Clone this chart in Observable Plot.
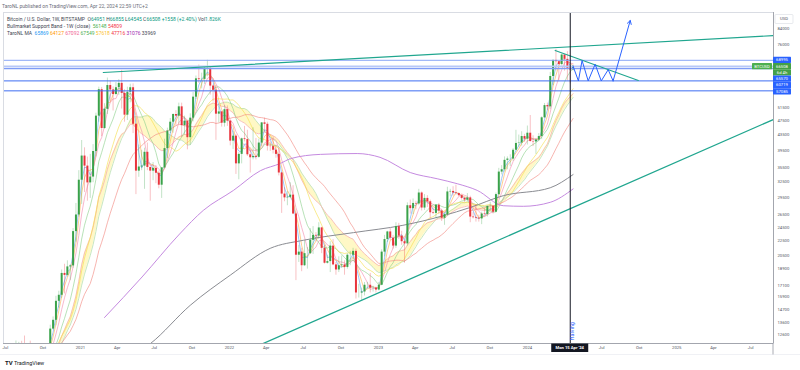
<!DOCTYPE html>
<html><head><meta charset="utf-8">
<script src="https://cdn.jsdelivr.net/npm/d3@7"></script>
<script src="https://cdn.jsdelivr.net/npm/@observablehq/plot@0.6"></script>
<style>
html,body{margin:0;padding:0;background:#fff;}
#wrap{position:relative;width:800px;height:370px;overflow:hidden;font-family:Roboto,"Liberation Sans",sans-serif;}
#chart{position:absolute;left:0;top:0;}
.hl{position:absolute;white-space:nowrap;font-size:5px;line-height:6px;color:#434651;}
</style></head><body>
<div id="wrap"><div id="chart"></div><div id="hdr"></div><div id="logo"></div></div>
<script>
// ---------- data ----------
const weekStart = "2020-07-06";
const firstOpen = 9080;
const closes = [
9240,9160,9930,11050,11900,11770,11660,11700,10250,10330,
10930,10780,10670,11380,11500,13030,13760,15480,16070,18400,
18180,19160,19280,23850,26440,32800,38100,35800,32260,33450,
39200,48800,57500,45200,50900,59000,57400,55800,58200,59800,
56200,49100,56600,58200,46400,34700,35600,35800,39000,35500,
34700,35300,34250,31800,35400,39900,44500,47000,49300,48800,
51700,46000,47300,42700,48200,54900,61500,61200,61300,65500,
65500,58800,57300,49400,50100,46700,50800,47300,41800,43100,
36300,38500,42400,42200,38400,37700,38000,37800,41300,46800,
46400,40500,40400,39500,38500,34300,30100,29400,29500,29900,
26600,20600,21000,19300,20800,20800,22600,23300,23200,24400,
21500,19600,19800,21800,19400,18800,19300,19400,19100,20600,
20600,21100,16300,16300,16400,17100,17100,16800,16800,16600,
17100,21000,22700,23800,22900,21800,24600,23200,22400,22100,
28000,27500,28400,28300,30300,27600,29300,28700,26800,26700,
28100,27100,25900,26500,30500,30600,30300,30200,29800,29300,
29000,29400,26100,26000,25900,25800,26600,26500,27900,27900,
26900,30000,34500,35000,37100,37400,37400,39500,41200,41300,
43000,42300,43900,41700,41600,42100,43000,48300,52100,51700,
62400,68950,68400,67200,71300,69400,65700,64951,66508];
const highs = [
9470,9290,10000,12100,12000,12080,12480,11800,12090,10600,
11180,10980,10950,11490,11720,13350,14050,15970,16480,18800,
19480,19900,19420,24300,28400,34800,41950,40100,37850,38500,
40900,49700,58400,58300,52700,61800,60600,58500,60100,61200,
64800,57500,58400,59500,59600,46600,40800,39500,40000,41300,
35600,36600,35900,34700,35500,42300,45300,48100,49500,50500,
52900,52900,48800,47400,49500,56500,62600,67000,63700,66400,
69000,66400,59200,59000,51900,50300,52100,52000,47500,44400,
43500,38900,42600,45800,44700,39800,45400,42500,42300,46900,
48200,47000,41600,42900,40800,39900,34400,31300,30600,32300,
31700,26900,21900,21500,22500,21600,24300,24600,23700,25200,
24500,21900,20600,22400,22700,19700,20400,20500,19900,20800,
21100,21500,21400,17200,16800,17400,17400,18400,17000,16900,
17400,21300,23300,23900,24300,23300,25200,25100,23900,22600,
28500,29000,29200,28800,31000,30500,30000,29800,29000,27600,
28200,28400,27400,26800,31400,31000,31500,31800,30300,29900,
29500,30200,29700,26800,28200,26400,26900,27500,27900,28600,
27900,30300,35300,35900,37900,37900,38400,39900,44700,43400,
44300,43600,45900,49000,43200,42300,43800,48600,52800,52900,
64000,69200,73800,68400,71700,71300,72800,66900,66855];
const lows = [
9000,9000,9150,9900,10950,11100,11380,11150,9870,9880,
10200,10150,10400,10530,11200,11400,12950,13300,14850,15780,
16200,18000,17600,19000,22350,26100,28200,30400,28800,29300,
32300,37900,47000,43000,45000,49300,53300,50400,55400,55500,
51000,47000,47500,53000,43800,30000,33400,34800,31000,34800,
28800,32700,32100,31100,29300,35200,37500,43800,43900,45900,
46500,42800,43400,39600,40700,47100,54100,59800,57800,59400,
62300,55600,53300,42000,46800,45600,45600,45800,40600,39700,
34000,32900,36300,41600,38000,34300,37200,37200,37600,40500,
44200,39300,39200,38600,37600,33700,26700,28700,28000,29300,
26500,17600,19700,18600,19200,18900,20700,20700,22400,22700,
20800,19500,19500,18500,19300,18200,18500,19000,18200,18900,
19300,20000,15700,15800,15500,16000,16700,16300,16400,16300,
16500,17100,20400,22300,22600,21400,21500,22700,21900,19600,
21800,26600,26500,27300,28000,27100,27200,27700,25800,26500,
25900,26500,25400,24800,26200,29600,29700,29900,29600,29000,
28600,28700,25200,25800,25300,25300,24900,26400,26100,27200,
26600,26800,29900,33900,34500,35000,35700,36900,39300,40300,
40500,41500,40800,41500,40400,38500,41800,42200,48100,50600,
50900,59000,64600,60800,66600,64500,60700,59600,64545];

// long moving averages (100W purple, 200W gray)
const ma100Dates = ["2021-03-01","2021-06-01","2021-09-01","2021-10-29","2022-01-11","2022-03-18","2022-05-06","2022-05-31","2022-08-12","2022-11-10","2023-01-05","2023-03-20","2023-05-25","2023-07-13","2023-08-31","2023-11-03","2023-12-22","2024-02-26","2024-04-22"];
const ma100Values = [14000,18000,23500,27200,30800,34800,36400,37500,38500,38700,37800,34400,33100,32100,30800,28000,27900,28600,31076];
const ma200Dates = ["2021-03-01","2021-06-21","2021-09-27","2022-01-03","2022-04-11","2022-07-01","2022-11-01","2023-03-02","2023-06-08","2023-08-14","2023-11-03","2024-02-26","2024-04-22"];
const ma200Values = [10200,11900,15100,18200,21500,22600,23700,24800,26300,27700,29800,31300,33969];
const maWindows = [3,4,6,10,16,30];

// horizontal levels
const levelValues = [68995,65570,60719,57085];
const priceValue = 66508;

// trend lines (author drawings)
const upperTrendDates = ["2021-02-26","2025-08-26"];
const upperTrendValues = [63960,80400];
const lowerTrendDates = ["2022-01-28","2025-08-26"];
const lowerTrendValues = [11200,47800];
const wedgeDates = ["2024-03-09","2024-09-29"];
const wedgeValues = [73300,60900];
// projection path
const projDates = ["2024-04-22","2024-05-05","2024-05-14","2024-05-29","2024-06-15","2024-06-30","2024-07-17","2024-07-29","2024-09-09"];
const projValues = [66508,60719,68900,60719,67300,60719,65100,60719,88300];
const halvingWeek = "2024-04-15";

// axis ticks
const xTickDates = ["2020-07-01","2020-10-01","2021-01-01","2021-04-01","2021-07-01","2021-10-01","2022-01-01","2022-04-01","2022-07-01","2022-10-01","2023-01-01","2023-04-01","2023-07-01","2023-10-01","2024-01-01","2024-07-01","2024-10-01","2025-01-01","2025-04-01","2025-07-01"];
const xTickLabels = ["Jul","Oct","2021","Apr","Jul","Oct","2022","Apr","Jul","Oct","2023","Apr","Jul","Oct","2024","Jul","Oct","2025","Apr","Jul"];
const yTicks = [84000,76000,51500,47500,43500,39500,35500,32500,29500,26500,24500,22500,20500,18900,17100,15900,14700,13600,12600];

// header texts
const ohlc = ["O","64951","H","66855","L","64545","C","66508","+1558 (+2.40%)"];
const volume = "1.826K";
const bandValues = [56148,54809];
const maLegendValues = [65869,64127,67092,67549,57618,47716,31076,33969];

// ---------- styles ----------
const maColors = ["#64a8f5","#ffb454","#f48fb1","#8fd18f","#f5e050","#f28b82","#c58ae0","#8a8c92"];
const legendColors = ["#2196f3","#ff9800","#f06292","#4caf50","#fbc02d","#f23645","#9c27b0","#434651"];
const upColor = "#3aa24a", downColor = "#e8343c";
const teal = "#20a68f", blue = "#2962ff";

// ---------- build rows ----------
const t0 = new Date(weekStart + "T00:00:00Z").getTime();
const rows = closes.map((c, i) => ({
  date: new Date(t0 + i * 7 * 864e5),
  open: i ? closes[i - 1] : firstOpen,
  high: highs[i], low: lows[i], close: c
}));
let ema;
rows.forEach((r, i) => {
  r.up = r.close >= r.open;
  r.sma20 = d3.mean(closes.slice(Math.max(0, i - 19), i + 1));
  ema = i ? (2 / 22) * r.close + (1 - 2 / 22) * ema : r.close;
  r.ema21 = ema;
});
const D = s => new Date(s + "T00:00:00Z");
const seg = (ds, vs) => ds.map((d, i) => ({date: D(d), value: vs[i]}));
const ma100 = seg(ma100Dates, ma100Values);
const ma200 = seg(ma200Dates, ma200Values);
const upper = seg(upperTrendDates, upperTrendValues);
const lower = seg(lowerTrendDates, lowerTrendValues);
const wedge = seg(wedgeDates, wedgeValues);
const proj = seg(projDates, projValues);
const projLine = proj.slice(0, -1);
const arrowSeg = [{x1: proj[proj.length - 2].date, y1: proj[proj.length - 2].value, x2: proj[proj.length - 1].date, y2: proj[proj.length - 1].value}];
const tickLabelMap = new Map(xTickDates.map((d, i) => [+D(d), xTickLabels[i]]));

const maMarks = maWindows.map((k, j) =>
  Plot.lineY(rows, Plot.windowY({k, anchor: "end", reduce: "mean"},
    {x: "date", y: "close", stroke: maColors[j], strokeWidth: 0.8, strokeOpacity: 0.8, clip: true})));

const chart = Plot.plot({
  width: 800, height: 357,
  marginLeft: 3, marginRight: 27, marginTop: 12, marginBottom: 14,
  style: {fontFamily: "Roboto, 'Liberation Sans', sans-serif", fontSize: "4px", background: "transparent", overflow: "visible"},
  x: {type: "utc", domain: [new Date("2020-06-26T12:00:00Z"), D("2025-08-26")]},
  y: {type: "log", domain: [11916, 92800]},
  color: {type: "identity"},
  marks: [
    Plot.areaY(rows, {x: "date", y1: "sma20", y2: "ema21", fill: "#fff3a0", fillOpacity: 0.6, clip: true}),
    Plot.lineY(rows, {x: "date", y: "sma20", stroke: "#b9e0b0", strokeWidth: 0.8, clip: true}),
    Plot.lineY(rows, {x: "date", y: "ema21", stroke: "#f6b2ae", strokeWidth: 0.8, clip: true}),
    ...maMarks,
    Plot.line(ma100, {x: "date", y: "value", stroke: maColors[6], strokeWidth: 1, curve: "monotone-x", clip: true}),
    Plot.line(ma200, {x: "date", y: "value", stroke: maColors[7], strokeWidth: 1, curve: "monotone-x", clip: true}),
    Plot.ruleX(rows, {x: "date", y1: "low", y2: "high", stroke: d => d.up ? upColor : downColor, strokeOpacity: 0.35, strokeWidth: 0.9, clip: true}),
    Plot.ruleX(rows, {x: "date", y1: "open", y2: "close", stroke: d => d.up ? upColor : downColor, strokeWidth: 2, clip: true}),
    Plot.ruleY([priceValue], {stroke: "#b7c8f7", strokeWidth: 1.6}),
    Plot.ruleY(levelValues, {stroke: (d, i) => i === 0 ? "#8aa7f7" : (i === 1 ? "#7f9cf5" : "#3d6df2"), strokeWidth: (d, i) => i === 1 ? 1.4 : 1}),
    Plot.line(upper, {x: "date", y: "value", stroke: teal, strokeWidth: 1.2, clip: true}),
    Plot.line(lower, {x: "date", y: "value", stroke: teal, strokeWidth: 1.3, clip: true}),
    Plot.line(wedge, {x: "date", y: "value", stroke: teal, strokeWidth: 1.1, clip: true}),
    Plot.line(projLine, {x: "date", y: "value", stroke: blue, strokeWidth: 1, clip: true}),
    Plot.arrow(arrowSeg, {x1: "x1", y1: "y1", x2: "x2", y2: "y2", stroke: blue, strokeWidth: 1, headLength: 6}),
    Plot.ruleX([D(halvingWeek)], {stroke: "#131722", strokeWidth: 1}),
    Plot.text(["Halving"], {x: () => D(halvingWeek), frameAnchor: "bottom", dy: -3, dx: 4, rotate: -90, textAnchor: "start", fill: blue, fontSize: 5.5}),
    Plot.frame({stroke: "#d9dce3"}),
    Plot.ruleX([D("2025-08-26")], {stroke: "#9598a1", strokeWidth: 0.8}),
    Plot.ruleY([11916], {stroke: "#9598a1", strokeWidth: 0.8}),
    Plot.axisX({ticks: xTickDates.map(D), tickFormat: d => tickLabelMap.get(+d), tickSize: 0, tickPadding: 3, fontSize: 4.2, fill: "#50535e"}),
    Plot.axisY({anchor: "right", ticks: yTicks, tickFormat: d => String(d), tickSize: 0, tickPadding: 4, fontSize: 4.2, fill: "#50535e"})
  ]
});
document.getElementById("chart").appendChild(chart);

// ---------- price-axis labels (stacked like TradingView) ----------
const sx = chart.scale("x"), sy = chart.scale("y");
const svg = d3.select(chart);
const g = svg.append("g").attr("font-family", "Roboto, 'Liberation Sans', sans-serif");
const axisX0 = sx.apply(D("2025-08-26"));
const axisY0 = sy.apply(11916);
// extended separators of the axis panes
g.append("line").attr("x1", axisX0).attr("x2", axisX0).attr("y1", axisY0).attr("y2", axisY0 + 12).attr("stroke", "#9598a1").attr("stroke-width", 0.8);
g.append("line").attr("x1", 0).attr("x2", 800).attr("y1", axisY0 + 11.5).attr("y2", axisY0 + 11.5).attr("stroke", "#e6e8ee").attr("stroke-width", 0.6);
const boxH = 6.3;
const labels = [
  {v: levelValues[0], fill: blue, text: String(levelValues[0])},
  {v: priceValue, fill: "#43a047", text: String(priceValue), price: true},
  {v: levelValues[1], fill: blue, text: String(levelValues[1])},
  {v: levelValues[2], fill: blue, text: String(levelValues[2])},
  {v: levelValues[3], fill: blue, text: String(levelValues[3])}
];
let prev = -Infinity;
function box(x, cy, w, fill, text) {
  g.append("rect").attr("x", x).attr("y", cy - boxH / 2).attr("width", w).attr("height", boxH).attr("fill", fill).attr("rx", 0.6);
  g.append("text").attr("x", x + w / 2).attr("y", cy).attr("dy", "0.35em").attr("text-anchor", "middle")
    .attr("font-size", 4.2).attr("fill", "#fff").text(text);
}
labels.forEach(l => {
  const cy = Math.max(sy.apply(l.v), prev + boxH);
  box(axisX0, cy, 18, l.fill, l.text);
  prev = cy;
  if (l.price) {
    box(axisX0 - 21, cy, 20, "#4caf50", "BTCUSD");
    box(axisX0, cy + boxH, 18, "#43a047", "6d 4h");
    prev = cy + boxH;
  }
});
// USD box
g.append("rect").attr("x", axisX0 + 2).attr("y", 14.5).attr("width", 18).attr("height", 9).attr("fill", "#fff").attr("stroke", "#d9dce3").attr("stroke-width", 0.6).attr("rx", 1);
g.append("text").attr("x", axisX0 + 11).attr("y", 19).attr("dy", "0.35em").attr("text-anchor", "middle").attr("font-size", 4.2).attr("fill", "#50535e").text("USD");
// date label box on time axis
const hx = sx.apply(D(halvingWeek));
g.append("rect").attr("x", hx - 18.5).attr("y", 343.5).attr("width", 37).attr("height", 8.5).attr("fill", "#131722");
g.append("text").attr("x", hx).attr("y", 347.8).attr("dy", "0.35em").attr("text-anchor", "middle").attr("font-size", 4.2).attr("font-weight", "bold").attr("fill", "#fff").text("Mon 15 Apr '24");

// ---------- header ----------
const green = "#089981";
const sp = (t, c) => `<span style="color:${c}">${t}</span>`;
let line2 = "Bitcoin / U.S. Dollar, 1W, BITSTAMP&nbsp; ";
for (let i = 0; i < 8; i += 2) line2 += ohlc[i] + sp(ohlc[i + 1], green) + " ";
line2 += sp(ohlc[8], green) + " Vol" + sp(volume, green);
const line3 = "Bullmarket Support Band - 1W (close)&nbsp; " + sp(bandValues[0], "#4caf50") + " " + sp(bandValues[1], "#f23645");
const line4 = "TaroNL MA&nbsp; " + maLegendValues.map((v, i) => sp(v, legendColors[i])).join(" ");
document.getElementById("hdr").innerHTML =
  `<div class="hl" style="left:2px;top:3px;color:#6a6d78">TaroNL published on TradingView.com, Apr 22, 2024 22:59 UTC+2</div>` +
  `<div class="hl" style="left:7px;top:16px">${line2}</div>` +
  `<div class="hl" style="left:7px;top:23px">${line3}</div>` +
  `<div class="hl" style="left:7px;top:30px">${line4}</div>`;
document.getElementById("logo").innerHTML =
  `<div class="hl" style="left:5px;top:360px;font-size:5.5px;color:#131722"><b style="font-size:6px">TV</b> TradingView</div>`;
</script>
</body></html>
